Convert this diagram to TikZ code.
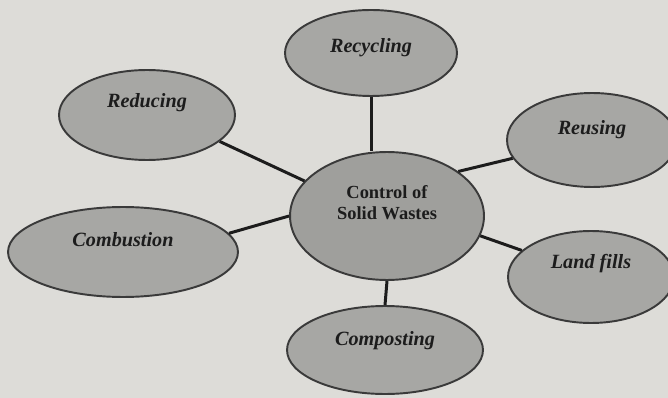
\documentclass[tikz,border=0pt]{standalone}
\usepackage{fontspec}
\setmainfont{Liberation Serif}
\usetikzlibrary{shapes.geometric}
\definecolor{paper}{HTML}{DDDCD8}
\definecolor{blob}{HTML}{A7A7A4}
\definecolor{rim}{HTML}{3A3A3A}
\definecolor{ink}{HTML}{1C1C1C}
\tikzset{way/.style={ellipse,draw=rim,fill=blob,line width=1.1pt,inner sep=0pt},
  tag/.style={font=\fontsize{11.5}{13}\selectfont\bfseries\itshape,text=ink},
  hub/.style={font=\fontsize{10.5}{12}\selectfont\bfseries,text=ink,align=center},
  link/.style={line width=1.7pt,draw=ink}}
\begin{document}
\begin{tikzpicture}[x=.02cm,y=-.02cm]
\clip (0,0) rectangle (668,398);
\fill[paper] (0,0) rectangle (668,398);
% hub and the six ways
\node[way,fill=blob!95!black,minimum width=3.88cm,minimum height=2.56cm,label={[hub,yshift=.26cm]center:Control of\\Solid Wastes}] (ctr) at (387,216) {};
\node[way,minimum width=3.44cm,minimum height=1.72cm,label={[tag,yshift=.1cm]center:Recycling}] (rec) at (371,53) {};
\node[way,minimum width=3.52cm,minimum height=1.80cm,label={[tag,yshift=.24cm]center:Reducing}] (red) at (147,115) {};
\node[way,minimum width=3.40cm,minimum height=1.88cm,label={[tag,yshift=.2cm]center:Reusing}] (reu) at (592,140) {};
\node[way,minimum width=4.60cm,minimum height=1.80cm,label={[tag,yshift=.24cm]center:Combustion}] (cmb) at (123,252) {};
\node[way,minimum width=3.32cm,minimum height=1.84cm,label={[tag,yshift=.26cm]center:Land fills}] (lf) at (591,277) {};
\node[way,minimum width=3.92cm,minimum height=1.76cm,label={[tag,yshift=.18cm]center:Composting}] (cmp) at (385,350) {};
% spokes
\draw[link] (rec.south) -- (rec.south |- ctr.north);
\draw[link] (ctr.south) -- (cmp.north);
\foreach \a/\n/\b in {157/red/-20,32/reu/193,180/cmb/10,-12/lf/159}{\draw[link] (ctr.\a) -- (\n.\b);}
\end{tikzpicture}
\end{document}
